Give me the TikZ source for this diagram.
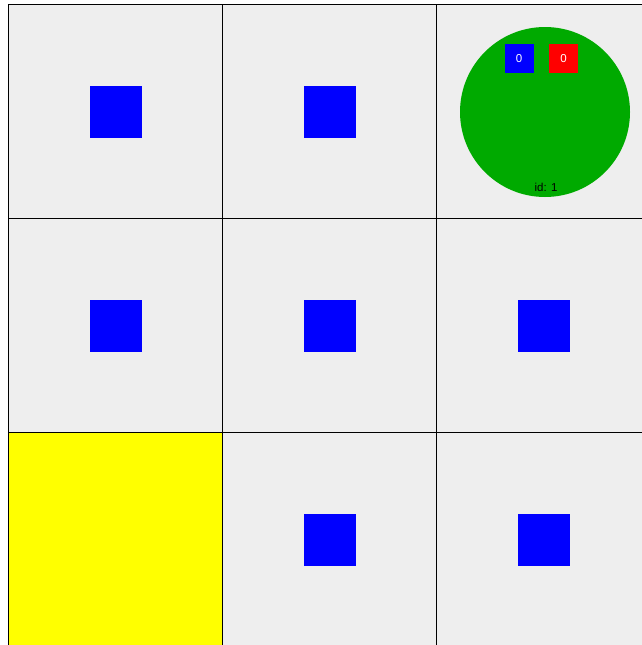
\documentclass[tikz,border=0pt]{standalone}
\usepackage{fontspec}
\setmainfont{Liberation Sans}
\definecolor{cellgray}{HTML}{EEEEEE}
\definecolor{agentgreen}{HTML}{00AA00}
\definecolor{pblue}{HTML}{0000FF}
\definecolor{pred}{HTML}{FF0000}
\definecolor{pyellow}{HTML}{FFFF00}
\begin{document}
\begin{tikzpicture}[x=1pt,y=-1pt,
  cell/.style={draw=black,line width=1pt,fill=cellgray,minimum size=214pt,inner sep=0pt,outer sep=0pt},
  yellowcell/.style={cell,fill=pyellow},
  item/.style={fill=pblue,minimum size=52pt,inner sep=0pt,outer sep=0pt},
  agent/.style={circle,fill=agentgreen,minimum size=170pt,inner sep=0pt},
  counter/.style={minimum width=29pt,minimum height=29pt,inner sep=0pt,text=white,font=\fontsize{11.5}{13}\selectfont},
  idlabel/.style={inner sep=0pt,font=\fontsize{11.5}{13}\selectfont,text=black}]
\useasboundingbox[fill=white] (0,0) rectangle (642,645);
\clip (0,0) rectangle (642,645);
% cells
\node[cell] (c00) at (115.5,111.5) {};
\node[cell] (c01) at (329.5,111.5) {};
\node[cell] (c02) at (543.5,111.5) {};
\node[cell] (c10) at (115.5,325.5) {};
\node[cell] (c11) at (329.5,325.5) {};
\node[cell] (c12) at (543.5,325.5) {};
\node[yellowcell] (c20) at (115.5,539.5) {};
\node[cell] (c21) at (329.5,539.5) {};
\node[cell] (c22) at (543.5,539.5) {};
% items
\node[item] (i00) at (c00.center) {};
\node[item] (i01) at (c01.center) {};
\node[item] (i10) at (c10.center) {};
\node[item] (i11) at (c11.center) {};
\node[item] (i12) at (c12.center) {};
\node[item] (i21) at (c21.center) {};
\node[item] (i22) at (c22.center) {};
% agent
\node[agent] (ag) at (545,112) {};
\node[counter,fill=pblue] (cb) at (519,58.5) {0};
\node[counter,fill=pred] (cr) at (563.5,58.5) {0};
\node[idlabel] (id) at (546,187) {id: 1};
\end{tikzpicture}
\end{document}
